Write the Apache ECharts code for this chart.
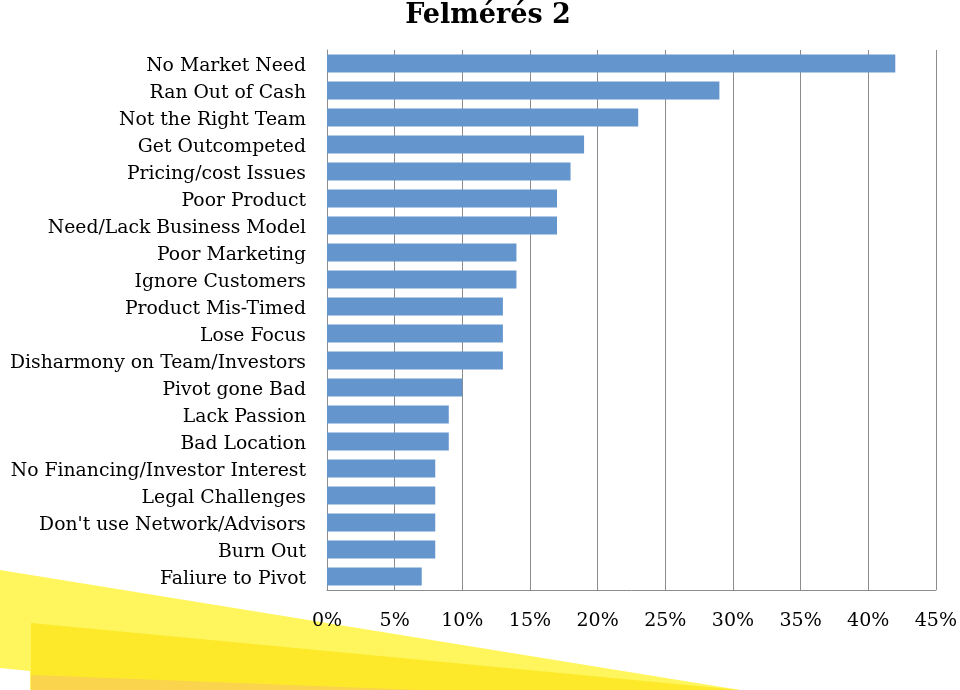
<!DOCTYPE html>
<html>
<head>
<meta charset="utf-8">
<script src="https://cdn.jsdelivr.net/npm/echarts@6/dist/echarts.min.js"></script>
<style>html,body{margin:0;padding:0;background:#fff;}#c{width:960px;height:690px;}</style>
</head>
<body>
<div id="c"></div>
<script>
const categories = [
  "No Market Need", "Ran Out of Cash", "Not the Right Team", "Get Outcompeted",
  "Pricing/cost Issues", "Poor Product", "Need/Lack Business Model", "Poor Marketing",
  "Ignore Customers", "Product Mis-Timed", "Lose Focus", "Disharmony on Team/Investors",
  "Pivot gone Bad", "Lack Passion", "Bad Location", "No Financing/Investor Interest",
  "Legal Challenges", "Don't use Network/Advisors", "Burn Out", "Faliure to Pivot"
];
const values = [42, 29, 23, 19, 18, 17, 17, 14, 14, 13, 13, 13, 10, 9, 9, 8, 8, 8, 8, 7];
const axisMin = 0, axisMax = 45, axisStep = 5;
const titleText = "Felmérés 2";

const FONT = "DejaVu Serif";
const chart = echarts.init(document.getElementById('c'), null, {renderer: 'canvas'});
chart.setOption({
  animation: false,
  backgroundColor: '#fff',
  title: {
    text: titleText, left: 483, top: -3, textAlign: 'center',
    textStyle: {fontFamily: FONT, fontWeight: 'bold', fontSize: 27, color: '#000'}
  },
  graphic: [
    {type: 'polygon', z: -10, silent: true, shape: {points: [[0,570],[740,690],[30,690],[30,671],[0,668]]}, style: {fill: '#fef65c'}},
    {type: 'polygon', z: -9, silent: true, shape: {points: [[31,623],[740,690],[31,690]]}, style: {fill: '#fde92a'}},
    {type: 'polygon', z: -8, silent: true, shape: {points: [[31,675],[420,690],[31,690]]}, style: {fill: '#f9d44c'}}
  ],
  grid: {left: 327, right: 22, top: 50, bottom: 100, containLabel: false},
  xAxis: {
    type: 'value', min: axisMin, max: axisMax, interval: axisStep,
    axisLine: {show: true, lineStyle: {color: '#8c8c8c', width: 1}},
    axisTick: {show: false},
    splitLine: {show: true, lineStyle: {color: '#8c8c8c', width: 1}},
    axisLabel: {formatter: '{value}%', margin: 22, fontFamily: FONT, fontSize: 19, color: '#000'}
  },
  yAxis: {
    type: 'category', data: categories, inverse: true,
    axisLine: {show: true, lineStyle: {color: '#8c8c8c', width: 1}},
    axisTick: {show: false},
    axisLabel: {margin: 21, fontFamily: FONT, fontSize: 18.8, color: '#000', verticalAlign: 'top', lineHeight: 6}
  },
  series: [{
    type: 'bar', data: values, barCategoryGap: '34%',
    itemStyle: {color: '#6495cd'}
  }]
});
</script>
</body>
</html>
